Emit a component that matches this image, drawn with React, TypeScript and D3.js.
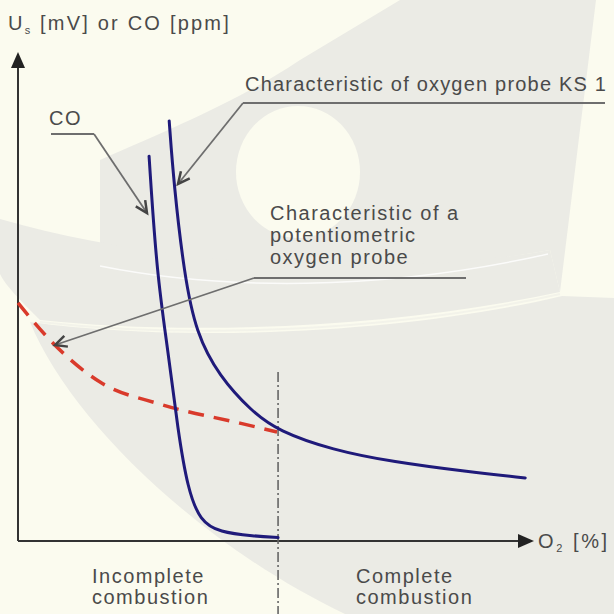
import * as d3 from "d3";

// O2 axis is unitless here (0..100 across the plotted width), same for the y axis
const ks1O2 = [29.3, 30.2, 32.2, 34.5, 39.0, 45.2, 50.4, 61.0, 72.5, 87.6, 98.3];
const ks1Us = [85.9, 73.0, 54.6, 42.5, 33.7, 26.6, 22.5, 18.6, 16.2, 14.1, 12.9];

const coO2 = [25.4, 26.9, 29.1, 31.0, 32.9, 35.3, 39.0, 45.7, 50.4];
const coPpm = [78.7, 54.6, 38.7, 22.5, 10.6, 4.1, 1.8, 1.0, 0.7];

const potO2 = [0, 6.2, 15.9, 27.5, 43.0, 50.2];
const potUs = [48.7, 41.1, 32.5, 28.0, 24.1, 22.3];

const boundaryO2 = 50.4;

const W = 614;
const H = 614;
const X0 = 18;
const X1 = 534;
const Y0 = 541;
const Y1 = 52;

const TEXT = "#4a4a4a";
const LEADER = "#6e6e6e";
const BLUE = "#1f1a7a";
const RED = "#d93a2b";
const CREAM = "#fbfbef";
const GREY = "#ebebe5";

type Pt = [number, number];

export default function App() {
  const x = d3.scaleLinear().domain([0, 100]).range([X0, X1]);
  const y = d3.scaleLinear().domain([0, 100]).range([Y0, Y1]);
  const smooth = d3
    .line<Pt>()
    .x((d) => x(d[0]))
    .y((d) => y(d[1]))
    .curve(d3.curveBasis);
  const dashed = d3
    .line<Pt>()
    .x((d) => x(d[0]))
    .y((d) => y(d[1]))
    .curve(d3.curveMonotoneX);

  const ks1 = ks1O2.map((v, i) => [v, ks1Us[i]] as Pt);
  const co = coO2.map((v, i) => [v, coPpm[i]] as Pt);
  const pot = potO2.map((v, i) => [v, potUs[i]] as Pt);

  const font = { fontFamily: "'Liberation Sans', Arial, sans-serif", fontSize: 20, letterSpacing: 1.5, fill: TEXT };

  // open chevron arrowhead at tip, coming from point "from"
  const chevron = (tip: Pt, from: Pt, size = 13) => {
    const a = Math.atan2(from[1] - tip[1], from[0] - tip[0]);
    const s = 0.45;
    const p1: Pt = [tip[0] + size * Math.cos(a - s), tip[1] + size * Math.sin(a - s)];
    const p2: Pt = [tip[0] + size * Math.cos(a + s), tip[1] + size * Math.sin(a + s)];
    return `M${p1[0]},${p1[1]}L${tip[0]},${tip[1]}L${p2[0]},${p2[1]}`;
  };

  const leaders: Pt[][] = [
    [[94, 134], [51, 134]],
    [[605, 103], [243, 103]],
    [[466, 278], [254, 278]],
  ];
  const tips: { from: Pt; tip: Pt }[] = [
    { from: [94, 134], tip: [147, 213] },
    { from: [243, 103], tip: [178, 184] },
    { from: [254, 278], tip: [55, 345] },
  ];

  return (
    <svg width={W} height={H} style={{ position: "absolute", left: 0, top: 0 }}>
      <rect width={W} height={H} fill={CREAM} />
      {/* watermark */}
      <path
        d="M100,160 C180,125 240,100 300,60 L400,0 L596,0 L560,292 L550,250 C380,280 250,272 100,262 Z"
        fill={GREY}
      />
      <ellipse cx={298} cy={172} rx={62} ry={66} fill={CREAM} />
      <path d="M0,219 C160,265 380,280 550,250 L560,292 C380,330 180,335 40,320 C20,300 5,285 0,274 Z" fill={GREY} />
      <path d="M30,322 C70,420 200,545 345,614 L614,614 L614,298 L562,296 C420,330 200,345 30,322 Z" fill={GREY} />
      <path d="M40,322 C200,340 400,330 560,294" fill="none" stroke="#f3f3ea" strokeWidth={2} />
      <path d="M100,266 C220,290 380,292 548,254" fill="none" stroke="#ffffff" strokeWidth={1.5} opacity={0.8} />

      {/* axes */}
      <line x1={X0} y1={Y0} x2={X1 - 12} y2={Y0} stroke="#333" strokeWidth={2} />
      <path d={`M${X1},${Y0} L${X1 - 16},${Y0 - 7} L${X1 - 16},${Y0 + 7} Z`} fill="#222" />
      <line x1={X0} y1={Y0} x2={X0} y2={Y1 + 12} stroke="#333" strokeWidth={2} />
      <path d={`M${X0},${Y1} L${X0 - 7},${Y1 + 16} L${X0 + 7},${Y1 + 16} Z`} fill="#222" />

      {/* combustion boundary */}
      <line
        x1={x(boundaryO2)}
        x2={x(boundaryO2)}
        y1={372}
        y2={H}
        stroke="#666"
        strokeWidth={1.6}
        strokeDasharray="10 3 2 3"
      />

      {/* curves */}
      <path d={dashed(pot) ?? undefined} fill="none" stroke={RED} strokeWidth={3.5} strokeDasharray="16 10" />
      <path d={smooth(co) ?? undefined} fill="none" stroke={BLUE} strokeWidth={3} strokeLinecap="round" />
      <path d={smooth(ks1) ?? undefined} fill="none" stroke={BLUE} strokeWidth={3} strokeLinecap="round" />

      {/* leaders */}
      {leaders.map((pts, i) => (
        <path key={i} d={`M${pts.map((p) => p.join(",")).join("L")}`} fill="none" stroke={LEADER} strokeWidth={2} />
      ))}
      {tips.map((t, i) => (
        <g key={i}>
          <line x1={t.from[0]} y1={t.from[1]} x2={t.tip[0]} y2={t.tip[1]} stroke={LEADER} strokeWidth={1.8} />
          <path d={chevron(t.tip, t.from)} fill="none" stroke="#444" strokeWidth={2.5} />
        </g>
      ))}

      {/* labels */}
      <text x={8} y={30} {...font} letterSpacing={2.2}>
        U<tspan fontSize={11} dy={4}>s</tspan>
        <tspan dy={-4}> [mV] or CO [ppm]</tspan>
      </text>
      <text x={538} y={548} {...font} letterSpacing={2.6}>
        O<tspan fontSize={11} dy={4}>2</tspan>
        <tspan dy={-4}> [%]</tspan>
      </text>
      <text x={245} y={91} {...font} letterSpacing={1.2}>Characteristic of oxygen probe KS 1</text>
      <text x={49} y={125} {...font}>CO</text>
      <text {...font}>
        <tspan x={270} y={220}>Characteristic of a</tspan>
        <tspan x={270} y={242}>potentiometric</tspan>
        <tspan x={270} y={264}>oxygen probe</tspan>
      </text>
      <text {...font}>
        <tspan x={92} y={583}>Incomplete</tspan>
        <tspan x={92} y={604}>combustion</tspan>
      </text>
      <text {...font}>
        <tspan x={356} y={583}>Complete</tspan>
        <tspan x={356} y={604}>combustion</tspan>
      </text>
    </svg>
  );
}
